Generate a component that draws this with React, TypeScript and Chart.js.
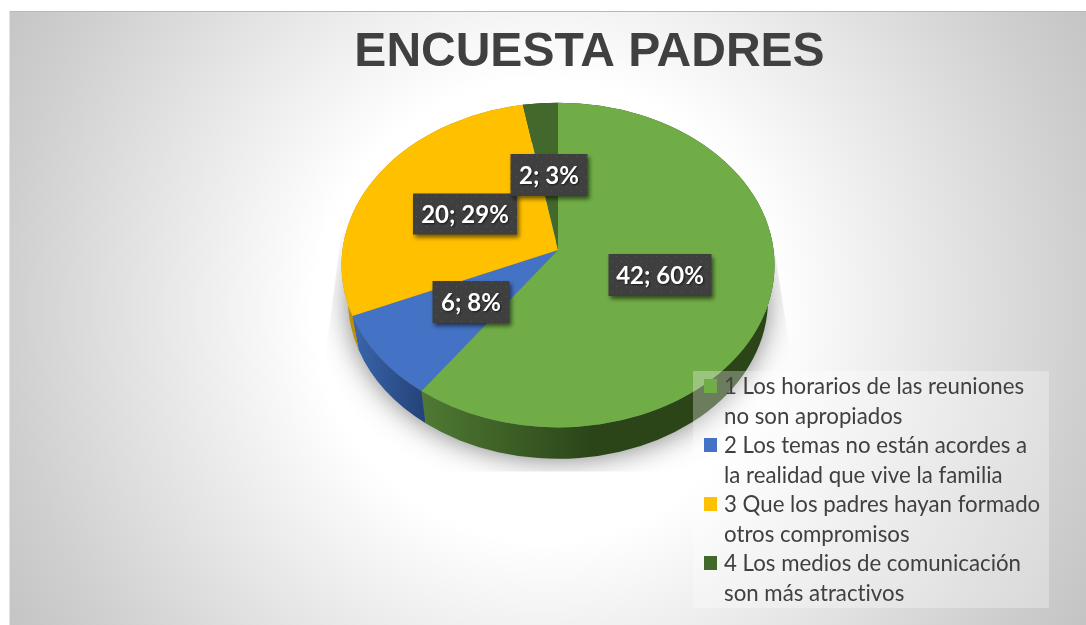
import { useEffect, useRef } from "react";
import { Chart, registerables } from "chart.js";

Chart.register(...registerables);

const titleText = "ENCUESTA PADRES";
const categories = [
  "1 Los horarios de las reuniones no son apropiados",
  "2 Los temas no están acordes a la realidad que vive la familia",
  "3 Que los padres hayan formado otros compromisos",
  "4 Los medios de comunicación son más atractivos",
];
const legendLines = [
  ["1 Los horarios de las reuniones", "no son apropiados"],
  ["2 Los temas no están acordes a", "la realidad que vive la familia"],
  ["3 Que los padres hayan formado", "otros compromisos"],
  ["4 Los medios de comunicación", "son más atractivos"],
];
const values = [42, 6, 20, 2];
const percents = [60, 8, 29, 3];
const colors = ["#70AD47", "#4472C4", "#FFC000", "#43682B"];
const wallColors = [
  ["#4f7a33", "#2b4519"],
  ["#3a66ae", "#25447a"],
  ["#bf9000", "#a67d00"],
  ["#2b4519", "#2b4519"],
];
const labelCenters = [
  [660, 275],
  [471, 302],
  [465, 214],
  [549, 175],
];
const labelSizes = [
  [103, 42],
  [77, 42],
  [104, 41],
  [77, 42],
];

const SQUASH = 0.75;
const APEX_SHIFT = -15;
const PERSPECTIVE = 0.092;
// lower rim of the pie relative to the upper rim
const LOWER_RX_SCALE = 0.97;
const LOWER_RY_SCALE = 0.978;
const LOWER_SHIFT = 35;

// Angle as it appears under the tilted view: slices nearer the viewer look wider.
function warp(angle: number) {
  const t = angle + Math.PI / 2;
  return t - PERSPECTIVE * Math.sin(t) - Math.PI / 2;
}

function ellipsePoint(a: any, angle: number) {
  return { x: a.x + a.outerRadius * Math.cos(angle), y: a.y + a.outerRadius * SQUASH * Math.sin(angle) };
}

const piePlugin = {
  id: "tiltedPie",
  beforeDatasetDraw(chart: any) {
    const ctx = chart.ctx;
    const arcs = chart.getDatasetMeta(0).data;
    const a0 = arcs[0];
    const rx = a0.outerRadius;
    const ry = rx * SQUASH;
    const lrx = rx * LOWER_RX_SCALE;
    const lry = ry * LOWER_RY_SCALE;
    const ly = a0.y + LOWER_SHIFT;

    // soft shadow below the pie, cropped to its box
    ctx.save();
    ctx.beginPath();
    ctx.moveTo(a0.x - rx, a0.y - 32);
    ctx.lineTo(a0.x - rx - 15, a0.y + 82);
    ctx.lineTo(a0.x - rx - 15, a0.y + ry + 44);
    ctx.lineTo(a0.x + rx + 16, a0.y + ry + 44);
    ctx.lineTo(a0.x + rx + 16, a0.y + 88);
    ctx.lineTo(a0.x + rx, a0.y - 15);
    ctx.closePath();
    ctx.clip();
    ctx.shadowColor = "rgba(0,0,0,0.55)";
    ctx.shadowBlur = 30;
    ctx.shadowOffsetY = 4;
    ctx.fillStyle = "#777";
    ctx.beginPath();
    ctx.ellipse(a0.x, ly - 3, lrx - 2, lry - 2, 0, 0, Math.PI * 2);
    ctx.fill();
    ctx.restore();

    // side wall: band between the upper and lower rim of each slice
    arcs.forEach((arc: any, i: number) => {
      const s = warp(arc.startAngle);
      const e = warp(arc.endAngle);
      const p0 = ellipsePoint(arc, s);
      const p1 = ellipsePoint(arc, e);
      const xs = [p0.x, p1.x];
      const g = ctx.createLinearGradient(Math.min(...xs), 0, i === 0 ? Math.min(...xs) + 170 : Math.max(...xs), 0);
      g.addColorStop(0, wallColors[i][0]);
      g.addColorStop(1, wallColors[i][1]);
      ctx.fillStyle = g;
      ctx.beginPath();
      ctx.ellipse(arc.x, arc.y, rx, ry, 0, s, e);
      ctx.ellipse(arc.x, ly, lrx, lry, 0, e, s, true);
      ctx.closePath();
      ctx.fill();
    });

    // top face
    arcs.forEach((arc: any, i: number) => {
      ctx.fillStyle = colors[i];
      ctx.beginPath();
      ctx.moveTo(arc.x, arc.y + APEX_SHIFT);
      ctx.ellipse(arc.x, arc.y, rx, ry, 0, warp(arc.startAngle), warp(arc.endAngle));
      ctx.closePath();
      ctx.fill();
    });
    return false;
  },
};

const overlayPlugin = {
  id: "overlay",
  beforeDraw(chart: any) {
    const ctx = chart.ctx;
    const g = ctx.createRadialGradient(545, 310, 230, 545, 310, 640);
    g.addColorStop(0, "#ffffff");
    g.addColorStop(0.756, "#cfcfcf");
    g.addColorStop(1, "#c2c2c2");
    ctx.fillStyle = "#ffffff";
    ctx.fillRect(0, 0, 1086, 625);
    ctx.fillStyle = g;
    ctx.fillRect(10, 12, 1076, 613);
    ctx.fillStyle = "#b8b8b8";
    ctx.fillRect(10, 11, 1076, 1);
    ctx.fillStyle = "#e2e2e2";
    ctx.fillRect(9, 11, 1, 614);
  },
  afterDraw(chart: any) {
    const ctx = chart.ctx;
    ctx.textRendering = "optimizeSpeed";

    // title
    ctx.save();
    ctx.font = 'bold 48px "Liberation Sans"';
    ctx.fillStyle = "#404040";
    ctx.textAlign = "center";
    ctx.textBaseline = "alphabetic";
    ctx.fillText(titleText, 589.5, 66);
    ctx.restore();

    // data labels
    const pat = document.createElement("canvas");
    pat.width = 10;
    pat.height = 10;
    const pc = pat.getContext("2d")!;
    pc.fillStyle = "#3f3f3f";
    pc.fillRect(0, 0, 10, 10);
    pc.fillStyle = "#565656";
    pc.fillRect(1, 1, 1, 1);
    pc.fillRect(6, 6, 1, 1);
    const pattern = ctx.createPattern(pat, "repeat");
    [0, 2, 1, 3].forEach((i) => {
      const [cx, cy] = labelCenters[i];
      const [w, h] = labelSizes[i];
      ctx.save();
      ctx.shadowColor = "rgba(0,0,0,0.55)";
      ctx.shadowBlur = 4;
      ctx.shadowOffsetX = 2;
      ctx.shadowOffsetY = 3;
      ctx.fillStyle = pattern;
      ctx.fillRect(cx - w / 2, cy - h / 2, w, h);
      ctx.shadowColor = "rgba(0,0,0,0.6)";
      ctx.shadowBlur = 2;
      ctx.shadowOffsetX = 1;
      ctx.shadowOffsetY = 1;
      ctx.font = 'bold 24px Lato';
      ctx.fillStyle = "#ffffff";
      ctx.textAlign = "center";
      ctx.textBaseline = "middle";
      ctx.fillText(`${values[i]}; ${percents[i]}%`, cx, cy + 1);
      ctx.restore();
    });

    // legend
    ctx.save();
    ctx.fillStyle = "rgba(255,255,255,0.3)";
    ctx.fillRect(693, 371, 356, 237);
    ctx.font = '22.25px Lato';
    ctx.textBaseline = "middle";
    ctx.textAlign = "left";
    legendLines.forEach((lines, i) => {
      const y0 = 387 + i * 59;
      ctx.fillStyle = colors[i];
      ctx.fillRect(704, y0 - 8, 13, 14);
      ctx.fillStyle = "#404040";
      lines.forEach((line, j) => ctx.fillText(line, 724, y0 + j * 29.5));
    });
    ctx.restore();
  },
};

export default function App() {
  const ref = useRef<HTMLCanvasElement>(null);
  useEffect(() => {
    document.body.style.margin = "0";
    const chart = new Chart(ref.current!, {
      type: "pie",
      data: {
        labels: categories,
        datasets: [{ data: values, backgroundColor: colors, borderWidth: 0 }],
      },
      options: {
        animation: false,
        responsive: false,
        layout: { padding: { left: 341.5, right: 311.5, top: 48.5, bottom: 143.5 } },
        plugins: { legend: { display: false }, title: { display: false }, tooltip: { enabled: false } },
      },
      plugins: [piePlugin, overlayPlugin],
    });
    return () => chart.destroy();
  }, []);
  return <canvas ref={ref} width={1086} height={625} style={{ display: "block" }} />;
}
